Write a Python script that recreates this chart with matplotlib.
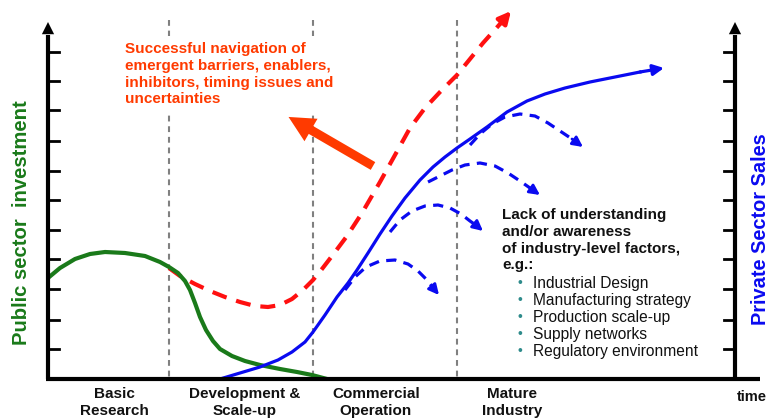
import matplotlib.pyplot as plt
from matplotlib.patches import FancyArrow

plt.rcParams['font.family'] = ['Liberation Sans', 'DejaVu Sans']

green_x = [48, 60, 75, 90, 105, 125, 145, 160, 169, 178, 185, 190, 195, 200, 206, 213, 220, 232, 245, 260, 280, 297, 312, 327]
green_y = [278, 268, 259, 254, 252, 253, 256, 262, 267, 273, 281, 290, 303, 317, 330, 341, 349, 356, 361, 365, 369, 372, 375, 379]

red_x = [169, 180, 195, 210, 225, 240, 255, 268, 280, 292, 303, 313, 322, 332, 347, 362, 380, 395, 410, 425, 440, 457, 470, 483, 500]
red_y = [268, 276, 284, 291, 297, 302, 306, 307, 305, 299, 290, 280, 269, 256, 236, 213, 182, 155, 128, 108, 92, 75, 59, 43, 24]
red_tip = (511, 11)

blue_x = [220, 240, 260, 278, 292, 305, 313, 325, 337, 348, 357, 368, 380, 392, 405, 420, 433, 445, 457, 470, 487, 507, 527, 545, 565, 590, 615, 640]
blue_y = [379, 373, 367, 360, 352, 342, 332, 315, 297, 283, 270, 253, 234, 216, 198, 180, 167, 157, 148, 139, 127, 112, 101, 94, 88, 82, 77, 72]
blue_tip = (664, 68)

# dashed "lack of understanding" branches leaving the sales curve
branch1_x = [345, 355, 366, 380, 395, 408, 418, 427, 434]
branch1_y = [290, 277, 267, 261, 260, 264, 271, 280, 289]
branch1_tip = (439, 295)
branch2_x = [390, 400, 412, 425, 438, 450, 461, 470, 477]
branch2_y = [232, 220, 211, 206, 205, 208, 214, 221, 226]
branch2_tip = (483, 231)
branch3_x = [428, 440, 452, 465, 480, 495, 508, 520, 530]
branch3_y = [182, 176, 170, 165, 163, 166, 173, 181, 188]
branch3_tip = (540, 195)
branch4_x = [470, 480, 492, 505, 520, 535, 548, 560, 572]
branch4_y = [145, 134, 124, 117, 114, 116, 123, 131, 139]
branch4_tip = (583, 147)

tick_y = [52, 81, 110, 141, 171, 200, 230, 259, 289, 320, 349]
phase_x = [169, 313, 457]
phase_labels = ['Basic\nResearch', 'Development &\nScale-up', 'Commercial\nOperation', 'Mature\nIndustry']
phase_label_x = [114, 245, 376, 512]

nav_text = 'Successful navigation of\nemergent barriers, enablers,\ninhibitors, timing issues and\nuncertainties'
lack_text = 'Lack of understanding\nand/or awareness\nof industry-level factors,\ne.g.:'
factors = ['Industrial Design', 'Manufacturing strategy', 'Production scale-up',
           'Supply networks', 'Regulatory environment']

fig = plt.figure(figsize=(7.74, 4.19), dpi=100)
ax = fig.add_axes([0, 0, 1, 1])
ax.set_xlim(0, 774)
ax.set_ylim(419, 0)
ax.axis('off')

# phase separators
for x in phase_x:
    ax.plot([x, x], [20, 379], color='#808080', lw=1.5, ls=(0, (2.8, 2.3)), zorder=1)

# axes with arrows
ax.plot([48, 48], [379, 35], color='black', lw=3, zorder=5, solid_capstyle='butt')
ax.plot([735, 735], [379, 35], color='black', lw=3, zorder=5, solid_capstyle='butt')
ax.plot([46, 760], [379, 379], color='black', lw=3, zorder=5, solid_capstyle='butt')
arrow_kw = dict(arrowstyle='-|>', color='black', lw=0, mutation_scale=22, shrinkA=0, shrinkB=0)
ax.annotate('', xy=(48, 22), xytext=(48, 40), arrowprops=arrow_kw, zorder=6)
ax.annotate('', xy=(735, 22), xytext=(735, 40), arrowprops=arrow_kw, zorder=6)
ax.annotate('', xy=(775, 379), xytext=(755, 379), arrowprops=arrow_kw, zorder=6)
for y in tick_y:
    ax.plot([48, 59], [y, y], color='black', lw=2, zorder=5)
    ax.plot([724, 735], [y, y], color='black', lw=2, zorder=5)

# curves
ax.plot(red_x, red_y, color='#FF1010', lw=3, ls=(0, (3.6, 2.4)), zorder=3)
ax.annotate('', xy=red_tip, xytext=(red_x[-1], red_y[-1]),
            arrowprops=dict(arrowstyle='-|>', color='#FF1010', lw=3, mutation_scale=18, shrinkA=0, shrinkB=0), zorder=3)
ax.plot(green_x, green_y, color='#1A7A1A', lw=3, zorder=4, solid_capstyle='butt')
ax.plot(blue_x, blue_y, color='#0A0AF0', lw=2.3, zorder=4)
ax.annotate('', xy=blue_tip, xytext=(blue_x[-1], blue_y[-1]),
            arrowprops=dict(arrowstyle='-|>', color='#0A0AF0', lw=2.3, mutation_scale=16, shrinkA=0, shrinkB=0), zorder=4)
for bx, by, tip in [(branch1_x, branch1_y, branch1_tip), (branch2_x, branch2_y, branch2_tip),
                    (branch3_x, branch3_y, branch3_tip), (branch4_x, branch4_y, branch4_tip)]:
    ax.plot(bx, by, color='#0A0AF0', lw=2.3, ls=(0, (3.2, 2.3)), zorder=4)
    ax.annotate('', xy=tip, xytext=(bx[-1], by[-1]),
                arrowprops=dict(arrowstyle='-|>', color='#0A0AF0', lw=2, mutation_scale=15, shrinkA=0, shrinkB=0), zorder=4)

# big orange arrow
ax.add_patch(FancyArrow(373, 166, -62, -36, width=9, head_width=26, head_length=26,
                        length_includes_head=False, color='#FF3A00', lw=0, zorder=4))

# texts
ax.text(125, 42, nav_text, color='#FF3A00', fontsize=11, fontweight='bold', va='top', ha='left',
        linespacing=1.25, zorder=2, bbox=dict(facecolor='white', edgecolor='none', pad=4))
ax.text(502, 208, lack_text, color='#111111', fontsize=11, fontweight='bold', va='top', ha='left',
        linespacing=1.25, zorder=6)
for i, f in enumerate(factors):
    ax.text(520, 283 + i * 17, '•', color='#2E8B8B', fontsize=10, va='center', ha='center')
    ax.text(533, 283 + i * 17, f, color='#111111', fontsize=11.2, va='center', ha='left')

for x, lab in zip(phase_label_x, phase_labels):
    ax.text(x, 387, lab, fontsize=11, fontweight='bold', ha='center', va='top', linespacing=1.25, color='#111111')
ax.text(752, 397, 'time', fontsize=10.5, fontweight='bold', ha='center', va='center', color='#111111')

ax.text(22, 223, 'Public sector  investment', color='#1A7A1A', fontsize=14.6, fontweight='bold',
        rotation=90, ha='center', va='center')
ax.text(760, 229, 'Private Sector Sales', color='#0A0AF0', fontsize=14.4, fontweight='bold',
        rotation=90, ha='center', va='center')

fig.savefig('out.png', dpi=100)
